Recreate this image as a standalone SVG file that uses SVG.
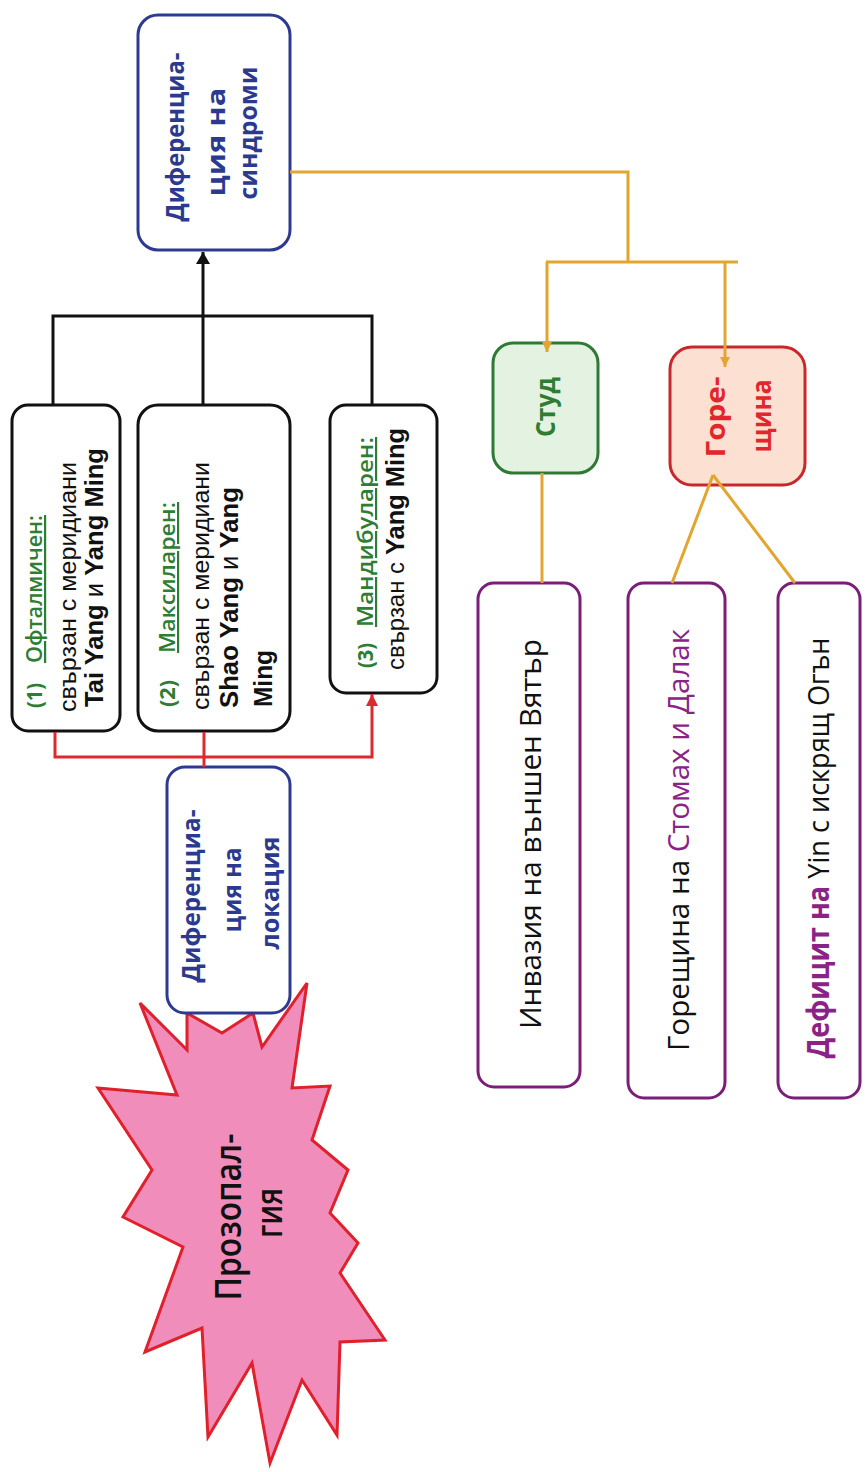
<svg xmlns="http://www.w3.org/2000/svg" width="867" height="1472" viewBox="0 0 867 1472">
<defs>
<style>
.os{font-family:"Open Sans","Noto Sans","DejaVu Sans",sans-serif}
.ls{font-family:"Liberation Sans",Arial,sans-serif}
.b{font-weight:bold}
.blue{fill:#2B3A8F}
.grn{fill:#2F7D32}
.red{fill:#E3262B}
.blk{fill:#111}
.pur{fill:#8B2387}
.bx{fill:#fff;stroke:#111;stroke-width:3}
.bb{fill:#fff;stroke:#2E3A92;stroke-width:3}
.pb{fill:#fff;stroke:#7A1E78;stroke-width:3}
.cb{fill:none;stroke:#111;stroke-width:3}
.cr{fill:none;stroke:#DC2A2E;stroke-width:3}
.cg{fill:none;stroke:#E2A630;stroke-width:3}
</style>
<marker id="ak" viewBox="0 0 10 10" refX="10" refY="5" markerWidth="12" markerHeight="14" markerUnits="userSpaceOnUse" orient="auto" preserveAspectRatio="none"><path d="M0,0L10,5L0,10z" fill="#111"/></marker>
<marker id="ar" viewBox="0 0 10 10" refX="10" refY="5" markerWidth="12" markerHeight="12" markerUnits="userSpaceOnUse" orient="auto" preserveAspectRatio="none"><path d="M0,0L10,5L0,10z" fill="#DC2A2E"/></marker>
<marker id="ag" viewBox="0 0 10 10" refX="10" refY="5" markerWidth="10" markerHeight="10" markerUnits="userSpaceOnUse" orient="auto" preserveAspectRatio="none"><path d="M0,0L10,5L0,10z" fill="#E2A630"/></marker>
</defs>
<rect width="867" height="1472" fill="#fff"/>

<g id="prosopalgia">
  <polygon points="307,983 292,1088 330,1086 312,1140 348,1170 330,1213 358,1243 340,1273 385,1340 340,1342 337,1435 302,1380 270,1463 252,1363 208,1437 202,1328 145,1352 183,1247 123,1217 152,1170 98,1088 177,1095 140,1003 187,1050 187,1013 222,1033 253,1013 262,1047" fill="#F18DBA" stroke="#E0202A" stroke-width="3" stroke-linejoin="miter"/>
  <text class="os blk" font-size="36" font-weight="600" text-anchor="middle" transform="translate(241,1217) rotate(-90)" textLength="167" lengthAdjust="spacingAndGlyphs">Прозопал-</text>
  <text class="os blk" font-size="36" font-weight="600" text-anchor="middle" transform="translate(282,1213) rotate(-90)" textLength="50" lengthAdjust="spacingAndGlyphs">гия</text>
</g>

<g id="diff-location">
  <rect class="bb" x="167" y="767" width="123" height="246" rx="18"/>
  <text class="os b blue" font-size="25" text-anchor="middle" transform="translate(200,896) rotate(-90)" textLength="173" lengthAdjust="spacingAndGlyphs">Диференциа-</text>
  <text class="os b blue" font-size="25" text-anchor="middle" transform="translate(241,890) rotate(-90)" textLength="85" lengthAdjust="spacingAndGlyphs">ция на</text>
  <text class="os b blue" font-size="25" text-anchor="middle" transform="translate(279,893) rotate(-90)" textLength="113" lengthAdjust="spacingAndGlyphs">локация</text>
</g>

<g id="diff-syndromes">
  <rect class="bb" x="138" y="15" width="152" height="235" rx="20"/>
  <text class="os b blue" font-size="25" text-anchor="middle" transform="translate(184,137) rotate(-90)" textLength="169" lengthAdjust="spacingAndGlyphs">Диференциа-</text>
  <text class="os b blue" font-size="25" text-anchor="middle" transform="translate(225,142) rotate(-90)" textLength="109" lengthAdjust="spacingAndGlyphs">ция на</text>
  <text class="os b blue" font-size="25" text-anchor="middle" transform="translate(257,133) rotate(-90)" textLength="133" lengthAdjust="spacingAndGlyphs">синдроми</text>
</g>

<g id="ophthalmic">
  <rect class="bx" x="12" y="405" width="108" height="326" rx="16"/>
  <text class="os b grn" font-size="22" transform="translate(42,708) rotate(-90)" textLength="25" lengthAdjust="spacingAndGlyphs">(1)</text>
  <text class="os grn" font-size="22" font-weight="600" text-decoration="underline" transform="translate(42,663) rotate(-90)" textLength="148" lengthAdjust="spacingAndGlyphs">Офталмичен:</text>
  <text class="ls blk" font-size="23" transform="translate(76,712) rotate(-90)" textLength="250" lengthAdjust="spacingAndGlyphs">свързан с меридиани</text>
  <text class="ls b blk" font-size="25" transform="translate(103,707) rotate(-90)" textLength="259" lengthAdjust="spacingAndGlyphs">Tai Yang <tspan font-weight="normal">и</tspan> Yang Ming</text>
</g>

<g id="maxillary">
  <rect class="bx" x="138" y="405" width="152" height="326" rx="20"/>
  <text class="os b grn" font-size="22" transform="translate(175,707) rotate(-90)" textLength="27" lengthAdjust="spacingAndGlyphs">(2)</text>
  <text class="os grn" font-size="22" font-weight="600" text-decoration="underline" transform="translate(175,653) rotate(-90)" textLength="151" lengthAdjust="spacingAndGlyphs">Максиларен:</text>
  <text class="ls blk" font-size="23" transform="translate(209,710) rotate(-90)" textLength="248" lengthAdjust="spacingAndGlyphs">свързан с меридиани</text>
  <text class="ls b blk" font-size="25" transform="translate(238,708) rotate(-90)" textLength="221" lengthAdjust="spacingAndGlyphs">Shao Yang <tspan font-weight="normal">и</tspan> Yang</text>
  <text class="ls b blk" font-size="25" transform="translate(272,707) rotate(-90)" textLength="57" lengthAdjust="spacingAndGlyphs">Ming</text>
</g>

<g id="mandibular">
  <rect class="bx" x="330" y="405" width="107" height="288" rx="16"/>
  <text class="os b grn" font-size="22" transform="translate(373,668) rotate(-90)" textLength="25" lengthAdjust="spacingAndGlyphs">(3)</text>
  <text class="os grn" font-size="22" font-weight="600" text-decoration="underline" transform="translate(373,627) rotate(-90)" textLength="190" lengthAdjust="spacingAndGlyphs">Мандибуларен:</text>
  <text class="ls blk" font-size="23" transform="translate(404,670) rotate(-90)" textLength="108" lengthAdjust="spacingAndGlyphs">свързан с</text>
  <text class="ls b blk" font-size="25" transform="translate(404,555) rotate(-90)" textLength="127" lengthAdjust="spacingAndGlyphs">Yang Ming</text>
</g>

<g id="cold">
  <rect x="493" y="343" width="105" height="130" rx="20" fill="#E4F2E2" stroke="#2E7A34" stroke-width="3"/>
  <text class="os b grn" font-size="26" text-anchor="middle" transform="translate(555,407) rotate(-90)" textLength="60" lengthAdjust="spacingAndGlyphs">Студ</text>
</g>

<g id="heat">
  <rect x="670" y="347" width="135" height="138" rx="22" fill="#FCE1D2" stroke="#C8282C" stroke-width="3"/>
  <text class="os b red" font-size="26" text-anchor="middle" transform="translate(725,417) rotate(-90)" textLength="81" lengthAdjust="spacingAndGlyphs">Горе-</text>
  <text class="os b red" font-size="26" text-anchor="middle" transform="translate(771,416) rotate(-90)" textLength="73" lengthAdjust="spacingAndGlyphs">щина</text>
</g>

<g id="external-wind">
  <rect class="pb" x="478" y="583" width="102" height="504" rx="16"/>
  <text class="os blk" font-size="30" text-anchor="middle" transform="translate(541,834) rotate(-90)" textLength="390" lengthAdjust="spacingAndGlyphs">Инвазия на външен Вятър</text>
</g>

<g id="stomach-spleen-heat">
  <rect class="pb" x="628" y="583" width="97" height="515" rx="16"/>
  <text class="os blk" font-size="30" text-anchor="middle" transform="translate(689,840) rotate(-90)" textLength="422" lengthAdjust="spacingAndGlyphs">Горещина на <tspan class="pur">Стомах и Далак</tspan></text>
</g>

<g id="yin-deficiency">
  <rect class="pb" x="778" y="583" width="82" height="515" rx="16"/>
  <text class="os blk" font-size="30" text-anchor="middle" transform="translate(829,848) rotate(-90)" textLength="421" lengthAdjust="spacingAndGlyphs"><tspan class="pur" font-weight="bold">Дефицит на</tspan> Yin с искрящ Огън</text>
</g>

<g id="connectors">
  <polyline class="cb" points="53,405 53,316 372,316 372,405"/>
  <line class="cb" x1="203" y1="405" x2="203" y2="252" marker-end="url(#ak)"/>
  <polyline class="cr" points="55,732 55,757 372,757 372,694" marker-end="url(#ar)"/>
  <line class="cr" x1="204" y1="732" x2="204" y2="767"/>
  <polyline class="cg" points="290,172 628,172 628,262"/>
  <line class="cg" x1="546" y1="262" x2="738" y2="262"/>
  <line class="cg" x1="547" y1="262" x2="547" y2="352" marker-end="url(#ag)"/>
  <line class="cg" x1="725" y1="262" x2="725" y2="367" marker-end="url(#ag)"/>
  <line class="cg" x1="542" y1="473" x2="542" y2="583"/>
  <line class="cg" x1="713" y1="475" x2="672" y2="583"/>
  <line class="cg" x1="713" y1="475" x2="795" y2="583"/>
</g>
</svg>
